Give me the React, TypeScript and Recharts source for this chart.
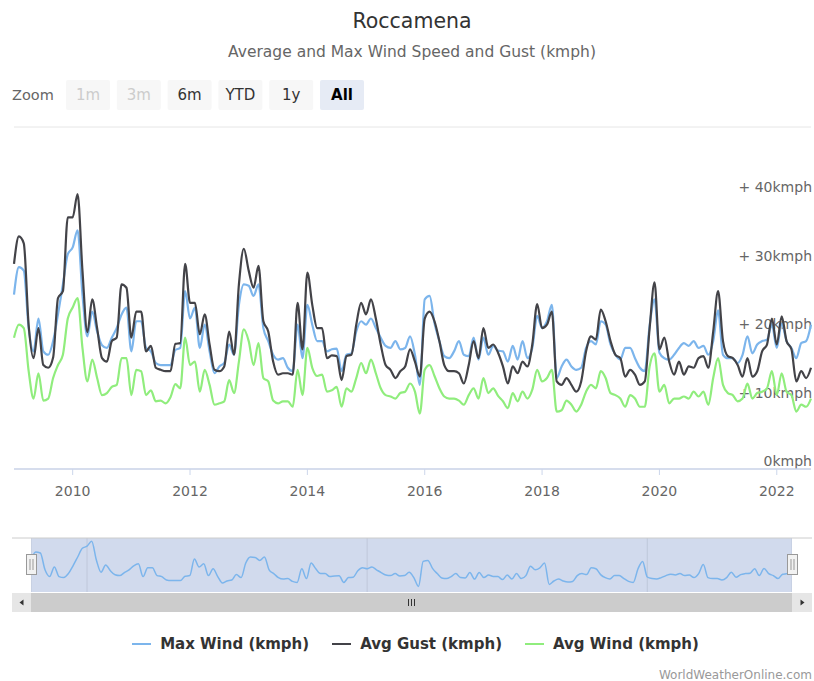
import React from "react";
import { LineChart, Line, XAxis, YAxis, CartesianGrid, ReferenceLine } from "recharts";

const startYear = 2009;

const maxWind = [
  25.5, 29.5, 29, 20.6, 17.2, 22, 17.2, 16.7, 18.7, 22.6, 27, 31.4,
  32.4, 34.9, 25.5, 19.4, 23, 20.1, 18.1, 17.7, 19.2, 20.6, 22.6, 23.6,
  17.2, 21.6, 21.6, 17.7, 17.2, 15.5, 15.2, 15.2, 15.2, 17.4, 17.7, 26,
  22, 23.6, 17.7, 21.1, 17.2, 14, 15, 15.5, 18.2, 16.7, 24, 27,
  26.8, 25.3, 27, 20.6, 18.7, 16.7, 16, 16.2, 14.8, 14.3, 21.1, 16.2,
  24, 21.1, 18.7, 18.7, 17.2, 17.5, 17.6, 14.3, 16.7, 16.9, 20.1, 21.6,
  21.1, 22, 20.6, 19.2, 18, 17.7, 18.7, 17.5, 17.7, 19.4, 16.7, 12.3,
  24.8, 25.3, 21.3, 18.7, 16.5, 16.2, 17.2, 18.7, 16.7, 16.5, 19.2, 16,
  19.2, 16.7, 18, 17.3, 17.2, 15.7, 18, 16, 18.7, 16.2, 17.7, 22.4,
  20.6, 21.6, 24, 13.3, 15, 16, 15, 14.5, 14.8, 17.7, 18.7, 18.2,
  21.6, 21.1, 18.2, 16.7, 16, 17.7, 17.7, 16.2, 14.8, 14.3, 21, 24.8,
  17, 16.2, 16, 16.7, 17.7, 18.4, 18, 18.7, 17.7, 18, 16.7, 18.7,
  23.2, 16.7, 16.2, 16.2, 15.5, 16.7, 19.4, 16.9, 18.2, 18.7, 18.9, 21.1,
  17.7, 21.3, 18.7, 17.7, 16.2, 18.4, 18.7, 21.1,
];

const avgGust = [
  30, 34, 33, 21, 16.2, 20.6, 15.2, 14.8, 16.3, 25, 26, 36.8,
  36.8, 40.2, 29, 20, 24.8, 20.6, 16.2, 15.7, 18.7, 19.2, 27, 26.5,
  19.2, 23, 23, 17.2, 18, 14.8, 14.5, 14.3, 14.3, 18.3, 18.4, 30,
  24.3, 24.3, 19.7, 22.6, 18.2, 14.5, 14.3, 15, 20.1, 16.7, 27, 32.2,
  29, 26.5, 29.7, 21.6, 20.1, 15.7, 13.8, 14, 14, 13.8, 24.3, 17.5,
  28.7, 24, 20.6, 20.6, 16.2, 16.6, 16.5, 13, 16.5, 16.7, 21.1, 24.3,
  22.6, 24.8, 22, 18.2, 15.2, 14.5, 13.3, 14.3, 15, 17.5, 15.7, 13.5,
  22, 23, 21.6, 18.7, 15.2, 14.3, 14.3, 14, 12.5, 15.2, 18.7, 16.2,
  20.6, 17.7, 18.2, 17, 15, 12.5, 15, 14, 15.7, 15, 18.2, 24.1,
  20.6, 21.1, 23, 12.8, 12.3, 13.3, 12.3, 11.3, 12.8, 17.2, 19.4, 18.9,
  23.3, 21.6, 18.7, 16.7, 16.2, 13.5, 14.5, 13.8, 12.3, 12.8, 20.6, 27.3,
  17.5, 19.2, 15.7, 13.8, 15.7, 13.8, 15, 14.8, 16.2, 16.5, 14.8, 20.1,
  26, 18.7, 16.5, 16.2, 15.2, 13.5, 16.2, 13.5, 14.3, 17.2, 18.2, 22,
  18.2, 22.3, 18.7, 17.5, 12.8, 14.3, 13.3, 14.8,
];

const avgWind = [
  19.2, 21.1, 20.6, 14.3, 10.3, 14, 10, 10.3, 13.3, 15.2, 16.7, 22,
  23.6, 25, 17.7, 12.8, 16, 13.3, 10.8, 11.1, 12, 12.3, 16.2, 16.2,
  10.8, 14.5, 14.3, 10.8, 11.5, 9.9, 10, 9.6, 10.5, 12.4, 11.8, 19.2,
  15.2, 15.7, 11.3, 14.5, 12.3, 9.4, 9.6, 9.9, 13, 11.1, 15.7, 20.4,
  18.7, 15.2, 18.4, 13.3, 12.8, 10, 9.6, 9.9, 9.9, 9.1, 14.5, 10.8,
  17.7, 14.8, 13.6, 13.8, 11.3, 11.5, 12, 9.1, 11.8, 11.3, 13.3, 15.5,
  14, 16, 14, 11.8, 10.8, 10.6, 10.3, 11.1, 11.3, 12.5, 11.3, 8.1,
  14.5, 15.2, 13.6, 11.8, 10.6, 10.3, 10.3, 10, 9.4, 10.8, 11.8, 10.3,
  13.3, 11.1, 11.8, 10.7, 9.9, 8.9, 11.1, 9.9, 11.3, 10.3, 11.6, 14.5,
  12.8, 13.3, 14.5, 8.4, 8.6, 10, 9.4, 8.4, 9.4, 11.3, 12.3, 11.8,
  14.3, 13.3, 11.1, 10.8, 10.3, 9.1, 10.8, 10.3, 9.1, 9.1, 15, 16.9,
  11.3, 12.3, 9.6, 10.3, 10.3, 10.6, 10.3, 11.3, 10.6, 11.3, 9.4, 13.3,
  16.2, 12.3, 11.1, 10.8, 9.9, 10.3, 12.5, 10.3, 11.1, 11.3, 11.8, 14.3,
  10.8, 14, 11.3, 10.8, 8.4, 9.4, 9.1, 10.3,
];

const yearTicks = [2010, 2012, 2014, 2016, 2018, 2020, 2022];
const navTicks = [2010, 2015, 2020];
const yTicks = [0, 10, 20, 30, 40, 50];
const yLabelTicks = [0, 10, 20, 30, 40];
const zoomButtons = ["1m", "3m", "6m", "YTD", "1y", "All"];
const disabledButtons = ["1m", "3m"];
const selectedButton = "All";

const seriesKeys = ["maxWind", "avgGust", "avgWind"];
const seriesNames = ["Max Wind (kmph)", "Avg Gust (kmph)", "Avg Wind (kmph)"];
const seriesColors = ["#7cb5ec", "#434348", "#90ed7d"];

const data = maxWind.map((v, i) => ({
  t: startYear + i / 12,
  maxWind: v,
  avgGust: avgGust[i],
  avgWind: avgWind[i],
}));

const FONT = "'DejaVu Sans', 'Lucida Grande', Verdana, sans-serif";

const yLabelText = (v: number) => (v === 0 ? "0kmph" : `+ ${v}kmph`);

const makeYLabel = (v: number) => (p: any) => {
  const vb = p.viewBox || {};
  return (
    <text
      x={vb.x + vb.width + 1}
      y={vb.y - 3}
      textAnchor="end"
      fill="#666"
      fontSize={14}
      fontFamily={FONT}
    >
      {yLabelText(v)}
    </text>
  );
};

const NavTick = (p: any) => (
  <text x={p.x + 4} y={p.y - 6} textAnchor="start" fill="#999" fontSize={14} fontFamily={FONT}>
    {p.payload.value}
  </text>
);

export default function App() {
  return (
    <div
      style={{
        position: "absolute",
        left: 0,
        top: 0,
        width: 814,
        height: 681,
        background: "#fff",
        fontFamily: FONT,
      }}
    >
      {/* main chart */}
      <div style={{ position: "absolute", left: 0, top: 0 }}>
        <LineChart width={814} height={510} data={data} margin={{ top: 127, right: 3, left: 14, bottom: 0 }}>
          <CartesianGrid vertical={false} stroke="#e6e6e6" />
          <XAxis
            dataKey="t"
            type="number"
            domain={["dataMin", "dataMax"]}
            ticks={yearTicks}
            height={41}
            tickSize={6}
            tickMargin={11}
            tick={{ fill: "#666", fontSize: 14 }}
            tickLine={{ stroke: "#ccd6eb" }}
            axisLine={{ stroke: "#ccd6eb", strokeWidth: 1.5 }}
          />
          <YAxis
            orientation="right"
            width={0}
            domain={[0, 50]}
            ticks={yTicks}
            axisLine={false}
            tickLine={false}
            tick={false}
          />
          {yLabelTicks.map((v) => (
            <ReferenceLine key={v} y={v} stroke="none" label={makeYLabel(v)} />
          ))}
          {seriesKeys.map((k, i) => (
            <Line
              key={k}
              type="monotone"
              dataKey={k}
              name={seriesNames[i]}
              stroke={seriesColors[i]}
              strokeWidth={2.2}
              dot={false}
              isAnimationActive={false}
            />
          ))}
        </LineChart>
      </div>

      {/* navigator */}
      <div style={{ position: "absolute", left: 31, top: 538, width: 761, height: 54, background: "#d1daed" }} />
      <div style={{ position: "absolute", left: 31, top: 538 }}>
        <LineChart width={761} height={54} data={data} margin={{ top: 0, right: 0, left: 0, bottom: 0 }}>
          <CartesianGrid horizontal={false} stroke="#bfc8da" />
          <XAxis
            dataKey="t"
            type="number"
            domain={["dataMin", "dataMax"]}
            ticks={navTicks}
            height={0}
            tickSize={0}
            tickMargin={0}
            axisLine={false}
            tickLine={false}
            tick={<NavTick />}
          />
          <YAxis hide domain={[9.5, 36.5]} />
          <Line
            type="monotone"
            dataKey="maxWind"
            stroke="#7cb5ec"
            strokeWidth={1.5}
            dot={false}
            isAnimationActive={false}
          />
        </LineChart>
      </div>

      {/* decorations & text */}
      <svg
        width={814}
        height={681}
        style={{ position: "absolute", left: 0, top: 0, pointerEvents: "none" }}
        fontFamily={FONT}
      >
        <text x={412} y={27.5} textAnchor="middle" fontSize={20.5} fill="#333">
          Roccamena
        </text>
        <text x={412} y={57} textAnchor="middle" fontSize={15.5} fill="#666">
          Average and Max Wind Speed and Gust (kmph)
        </text>

        <text x={12} y={99.5} fontSize={14.5} fill="#666">
          Zoom
        </text>
        {zoomButtons.map((b, i) => {
          const cx = 88 + i * 50.8;
          const sel = b === selectedButton;
          const dis = disabledButtons.includes(b);
          return (
            <g key={b}>
              <rect x={cx - 22} y={80} width={44} height={30} rx={2} fill={sel ? "#e6ebf5" : "#f7f7f7"} />
              <text
                x={cx}
                y={99.5}
                textAnchor="middle"
                fontSize={15}
                fontWeight={sel ? "bold" : "normal"}
                fill={dis ? "#cccccc" : sel ? "#000" : "#333"}
              >
                {b}
              </text>
            </g>
          );
        })}

        {/* navigator outline */}
        <line x1={12} y1={538} x2={812} y2={538} stroke="#cccccc" strokeWidth={1} />

        {/* handles */}
        {[31.5, 792.5].map((hx) => (
          <g key={hx}>
            <rect x={hx - 5} y={554.5} width={10} height={20} fill="#f2f2f2" stroke="#999" strokeWidth={1} />
            <line x1={hx - 1.5} y1={559} x2={hx - 1.5} y2={570} stroke="#999" />
            <line x1={hx + 1.5} y1={559} x2={hx + 1.5} y2={570} stroke="#999" />
          </g>
        ))}

        {/* scrollbar */}
        <rect x={12} y={593} width={19} height={19} fill="#e6e6e6" />
        <path d="M 23.5 599.5 L 19.5 602.5 L 23.5 605.5 Z" fill="#333" />
        <rect x={31} y={593} width={761} height={19} fill="#cccccc" />
        {[408.5, 411.5, 414.5].map((gx) => (
          <line key={gx} x1={gx} y1={599} x2={gx} y2={606} stroke="#333" strokeWidth={1} />
        ))}
        <rect x={792} y={593} width={20} height={19} fill="#e6e6e6" />
        <path d="M 800.5 599.5 L 804.5 602.5 L 800.5 605.5 Z" fill="#333" />

        {/* credits */}
        <text x={812} y={678.5} textAnchor="end" fontSize={12} fill="#999">
          WorldWeatherOnline.com
        </text>
      </svg>

      {/* legend */}
      <div
        style={{
          position: "absolute",
          left: 0,
          top: 634,
          width: 831,
          height: 20,
          display: "flex",
          justifyContent: "center",
          alignItems: "center",
          gap: 23,
        }}
      >
        {seriesNames.map((n, i) => (
          <div key={n} style={{ display: "flex", alignItems: "center" }}>
            <span style={{ display: "inline-block", width: 19, height: 2, background: seriesColors[i], marginRight: 9 }} />
            <span style={{ fontSize: 15, fontWeight: "bold", color: "#333", lineHeight: "20px", whiteSpace: "nowrap" }}>
              {n}
            </span>
          </div>
        ))}
      </div>
    </div>
  );
}
